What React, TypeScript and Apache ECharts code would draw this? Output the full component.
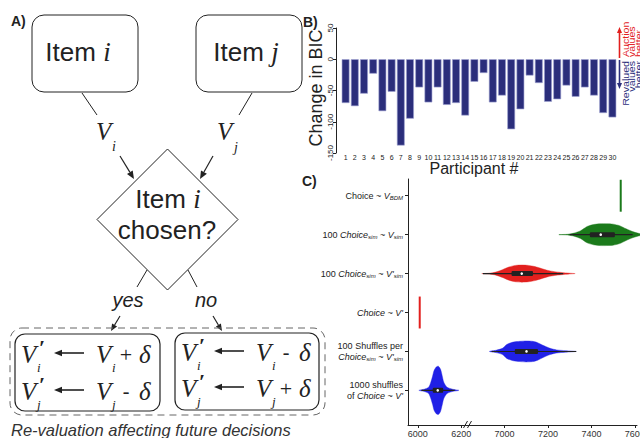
import React, { useEffect, useRef } from "react";
import * as echarts from "echarts";

// ---------- Panel B data ----------
const participants = ["1","2","3","4","5","6","7","8","9","10","11","12","13","14","15","16","17","18","19","20","21","22","23","24","25","26","27","28","29","30"];
const bicChange = [-70,-75,-55,-23,-83,-52,-138,-95,-45,-69,-45,-73,-70,-90,-36,-22,-69,-58,-112,-80,-26,-38,-68,-64,-42,-60,-45,-58,-86,-93];
const bicTicks = [50, 0, -50, -100, -150];

// ---------- Panel C data ----------
const rowLabels = [
  "Choice ~ {i|V}{s|BDM}",
  "100 {i|Choice}{s|sim} ~ {i|V}{s|sim}",
  "100 {i|Choice}{s|sim} ~ {i|V'}{s|sim}",
  "{i|Choice ~ V'}",
  "100 Shuffles per\n{i|Choice}{s|sim} ~ {i|V'}{s|sim}",
  "1000 shuffles\nof {i|Choice} ~ {i|V'}",
];
const rowPositions = [1, 2, 3, 4, 5, 6];
const devianceTicks = [6000, 6200, 7000, 7200, 7400, 7600];

// single model fits (vertical lines)
const fitRows = [1, 4];
const fitDeviance = [7535, 6009];

// violins (deviance grid and half-width density in row units)
const violinRows = [2, 3, 5, 6];
const simDeviance = [7250, 7290, 7320, 7350, 7380, 7410, 7440, 7470, 7500, 7530, 7560, 7590, 7620, 7650];
const simDensity = [0, 0.01, 0.04, 0.1, 0.21, 0.26, 0.28, 0.28, 0.27, 0.23, 0.15, 0.08, 0.03, 0];
const simPrimeDeviance = [6895, 6930, 6960, 6990, 7020, 7050, 7080, 7110, 7140, 7170, 7200, 7230, 7260, 7300, 7325];
const simPrimeDensity = [0, 0.01, 0.04, 0.1, 0.17, 0.21, 0.22, 0.21, 0.18, 0.13, 0.08, 0.05, 0.03, 0.01, 0];
const shuffleSimDeviance = [6930, 6960, 6990, 7010, 7040, 7070, 7100, 7130, 7150, 7180, 7210, 7240, 7280, 7330];
const shuffleSimDensity = [0, 0.03, 0.08, 0.18, 0.24, 0.26, 0.27, 0.26, 0.23, 0.15, 0.08, 0.04, 0.02, 0];
const shuffleDeviance = [6005, 6030, 6050, 6060, 6068, 6075, 6085, 6095, 6105, 6112, 6120, 6135, 6160, 6190];
const shuffleDensity = [0, 0.03, 0.08, 0.21, 0.36, 0.51, 0.6, 0.62, 0.54, 0.39, 0.21, 0.08, 0.03, 0];

const violinDeviance = [simDeviance, simPrimeDeviance, shuffleSimDeviance, shuffleDeviance];
const violinDensity = [simDensity, simPrimeDensity, shuffleSimDensity, shuffleDensity];
const violinQ1 = [7393, 7032, 7047, 6069];
const violinMedian = [7443, 7079, 7101, 6092];
const violinQ3 = [7508, 7131, 7154, 6117];
const violinLo = [7300, 6900, 6940, 6017];
const violinHi = [7590, 7270, 7330, 6170];

// ---------- styles ----------
const ink = "#222";
const green = "#1b7a1b";
const red = "#e2201e";
const blue = "#2020e6";
const navy = "#2b2e7b";
const sans = '"Liberation Sans", Arial, Helvetica, sans-serif';
const serif = '"Liberation Serif", "Times New Roman", serif';
const violinColors = [green, red, blue, blue];
const fitColors = [green, red];

// axis break: 6200..7000 collapsed to one tick step
const toAxis = (v: number) => (v <= 6600 ? v : v - 600);
const fromAxis = (v: number) => (v <= 6200 ? v : v + 600);

type Opts = { family?: string; italic?: boolean; bold?: boolean; color?: string; align?: string; va?: string; rot?: number; lh?: number; sx?: number };
function txt(x: number, y: number, text: string, size: number, o: Opts = {}) {
  return {
    type: "text",
    x,
    y,
    rotation: o.rot || 0,
    scaleX: o.sx || 1,
    style: {
      text,
      fontSize: size,
      fontFamily: o.family || sans,
      fontStyle: o.italic ? "italic" : "normal",
      fontWeight: o.bold ? "bold" : "normal",
      fill: o.color || ink,
      align: o.align || "left",
      verticalAlign: o.va || "middle",
      lineHeight: o.lh,
    },
  };
}
function arrowEl(x1: number, y1: number, x2: number, y2: number, color: string, head = 7, lw = 1.2) {
  const ang = Math.atan2(y2 - y1, x2 - x1);
  const hx = x2 - head * Math.cos(ang);
  const hy = y2 - head * Math.sin(ang);
  const w = head * 0.42;
  const px = -Math.sin(ang) * w;
  const py = Math.cos(ang) * w;
  return [
    { type: "line", shape: { x1, y1, x2: hx, y2: hy }, style: { stroke: color, lineWidth: lw } },
    { type: "polygon", shape: { points: [[x2, y2], [hx + px, hy + py], [hx - px, hy - py]] }, style: { fill: color } },
  ];
}
function lineEl(x1: number, y1: number, x2: number, y2: number, lw = 1, color = ink) {
  return { type: "line", shape: { x1, y1, x2, y2 }, style: { stroke: color, lineWidth: lw } };
}
function equation(x0: number, y: number, sub: string, op: string, sub2: string) {
  return [
    txt(x0, y, "V", 25, { family: serif, italic: true }),
    txt(x0 + 18, y - 7, "\u2032", 22, { family: serif, bold: true }),
    txt(x0 + 16, y + 13, sub, 13, { family: serif, italic: true }),
    ...arrowEl(x0 + 63, y - 1, x0 + 33, y - 1, ink, 8, 1.6),
    txt(x0 + 75, y, "V", 25, { family: serif, italic: true }),
    txt(x0 + 91, y + 13, sub2, 13, { family: serif, italic: true }),
    txt(x0 + 105, y, op, op === "+" ? 22 : 20, { family: serif, align: "center" }),
    txt(x0 + 118, y, "\u03b4", 25, { family: serif, italic: true }),
  ];
}

function buildGraphic() {
  const g: any[] = [];
  // panel labels
  g.push(txt(11, 21, "A)", 14, { bold: true }));
  g.push(txt(303, 22, "B)", 14, { bold: true }));
  g.push(txt(302, 181, "C)", 14, { bold: true }));

  // ----- Panel A -----
  g.push({ type: "rect", shape: { x: 32, y: 15, width: 106, height: 77, r: 12 }, style: { fill: "#fff", stroke: ink, lineWidth: 1 } });
  g.push({ type: "rect", shape: { x: 196, y: 15, width: 106, height: 77, r: 12 }, style: { fill: "#fff", stroke: ink, lineWidth: 1 } });
  g.push({
    type: "text", x: 78, y: 52,
    style: { text: "{a|Item }{b|i}", align: "center", verticalAlign: "middle", fill: ink,
      rich: { a: { fontFamily: sans, fontSize: 26, fill: ink }, b: { fontFamily: serif, fontStyle: "italic", fontSize: 27, fill: ink } } },
  });
  g.push({
    type: "text", x: 246, y: 52,
    style: { text: "{a|Item }{b|j}", align: "center", verticalAlign: "middle", fill: ink,
      rich: { a: { fontFamily: sans, fontSize: 26, fill: ink }, b: { fontFamily: serif, fontStyle: "italic", fontSize: 27, fill: ink } } },
  });
  g.push(lineEl(82, 93, 97, 115));
  g.push(lineEl(252, 93, 239, 115));
  g.push(txt(96, 131, "V", 25, { family: serif, italic: true }));
  g.push(txt(112, 146, "i", 14, { family: serif, italic: true }));
  g.push(txt(217, 131, "V", 25, { family: serif, italic: true }));
  g.push(txt(234, 147, "j", 14, { family: serif, italic: true }));
  g.push(...arrowEl(120, 156, 134, 179, ink, 8, 1.2));
  g.push(...arrowEl(213, 156, 200, 179, ink, 8, 1.2));
  // diamond
  g.push({ type: "polygon", shape: { points: [[167.5, 149], [238, 219.5], [167.5, 290], [97, 219.5]] }, style: { fill: "#fff", stroke: ink, lineWidth: 1 } });
  g.push({
    type: "text", x: 168, y: 199,
    style: { text: "{a|Item }{b|i}", align: "center", verticalAlign: "middle", fill: ink,
      rich: { a: { fontFamily: sans, fontSize: 26, fill: ink }, b: { fontFamily: serif, fontStyle: "italic", fontSize: 27, fill: ink } } },
  });
  g.push(txt(167, 230, "chosen?", 26, { align: "center" }));
  g.push(lineEl(147, 270, 137, 287));
  g.push(lineEl(188, 270, 197, 287));
  g.push(txt(128, 300, "yes", 20, { italic: true, align: "center" }));
  g.push(txt(206, 300, "no", 20, { italic: true, align: "center" }));
  g.push(...arrowEl(120, 316, 111, 331, ink, 7, 1.2));
  g.push(...arrowEl(213, 316, 222, 331, ink, 7, 1.2));
  // dashed outer + boxes
  g.push({ type: "rect", shape: { x: 10, y: 328, width: 315, height: 87, r: 12 }, style: { fill: "none", stroke: "#666", lineWidth: 1, lineDash: [7, 5] } });
  g.push({ type: "rect", shape: { x: 15, y: 334, width: 145, height: 77, r: 10 }, style: { fill: "#fff", stroke: ink, lineWidth: 1.2 } });
  g.push({ type: "rect", shape: { x: 175, y: 333, width: 144, height: 77, r: 10 }, style: { fill: "#fff", stroke: ink, lineWidth: 1.2 } });
  g.push(...equation(21, 354, "i", "+", "i"));
  g.push(...equation(21, 391, "j", "-", "j"));
  g.push(...equation(181, 352, "i", "-", "i"));
  g.push(...equation(181, 388, "j", "+", "j"));
  g.push(txt(11, 430, "Re-valuation affecting future decisions", 16.5, { italic: true, color: "#333" }));

  // ----- Panel B annotations -----
  g.push(txt(316, 88, "Change in BIC", 18, { align: "center", rot: Math.PI / 2 }));
  g.push(txt(474, 168, "Participant #", 16, { align: "center" }));
  g.push(...arrowEl(619.5, 58, 619.5, 27, red, 6, 1.6));
  g.push(...arrowEl(619.5, 60, 619.5, 89, navy, 6, 1.6));
  g.push(txt(622.5, 57, "Auction\nvalues\nbetter", 8.5, { align: "left", va: "top", rot: Math.PI / 2, color: red, lh: 6.5, sx: 1.25 }));
  g.push(txt(622.5, 61, "Revalued\nvalues\nbetter", 8.5, { align: "right", va: "top", rot: Math.PI / 2, color: navy, lh: 6.5, sx: 1.25 }));

  // axis break mark on panel C x-axis
  g.push(lineEl(463.5, 428, 467.5, 421, 1, ink));
  g.push(lineEl(467.5, 428, 471.5, 421, 1, ink));
  return g;
}

export default function App() {
  const ref = useRef<HTMLDivElement>(null);
  useEffect(() => {
    document.body.style.margin = "0";
    const chart = echarts.init(ref.current!, undefined, { renderer: "svg" });
    const tickPos = devianceTicks.map(toAxis);
    const labelRich = {
      i: { fontStyle: "italic", fontSize: 9, fontFamily: sans, color: ink, lineHeight: 11 },
      s: { fontStyle: "italic", fontSize: 6, fontFamily: sans, color: ink, lineHeight: 11, verticalAlign: "bottom" },
    };
    const option: any = {
      animation: false,
      textStyle: { fontFamily: sans },
      grid: [
        { left: 341, right: 23, top: 28, bottom: 285, containLabel: false, outerBoundsMode: "none" },
        { left: 408, right: 3, top: 179, bottom: 13, containLabel: false, outerBoundsMode: "none" },
      ],
      xAxis: [
        {
          type: "category", gridIndex: 0, data: participants,
          axisLine: { show: false, onZero: false }, axisTick: { show: false },
          axisLabel: { interval: 0, fontSize: 7, color: ink, margin: 1 },
        },
        {
          type: "value", gridIndex: 1, min: 5955, max: 7010,
          name: "Deviance", nameLocation: "middle", nameGap: 12,
          nameTextStyle: { fontSize: 12, color: ink, verticalAlign: "top" },
          axisLine: { show: true, onZero: false, lineStyle: { color: ink, width: 1 } },
          axisTick: { show: true, customValues: tickPos, length: 3, lineStyle: { color: ink } },
          axisLabel: { customValues: tickPos, formatter: (v: number) => String(fromAxis(v)), fontSize: 9, color: "#333", margin: 4 },
          splitLine: { show: false },
        },
      ],
      yAxis: [
        {
          type: "value", gridIndex: 0, min: -150, max: 50, interval: 50, offset: 5,
          axisLine: { show: true, lineStyle: { color: ink, width: 1 } },
          axisTick: { show: true, length: 3, lineStyle: { color: ink } },
          axisLabel: { rotate: 90, fontSize: 8, color: ink, margin: 2, customValues: bicTicks },
          splitLine: { show: false },
        },
        {
          type: "value", gridIndex: 1, inverse: true, min: 0.57, max: 6.89,
          axisLine: { show: true, onZero: false, lineStyle: { color: ink, width: 1 } },
          axisTick: { show: true, customValues: rowPositions, length: 3, lineStyle: { color: ink } },
          axisLabel: {
            customValues: rowPositions,
            formatter: (v: number) => rowLabels[Math.round(v) - 1],
            rich: labelRich, fontSize: 9, lineHeight: 11, color: ink, margin: 5, align: "right",
          },
          splitLine: { show: false },
        },
      ],
      series: [
        {
          type: "bar", xAxisIndex: 0, yAxisIndex: 0, data: bicChange,
          barCategoryGap: "16%",
          itemStyle: { color: navy, borderColor: "#9a9dd0", borderWidth: 0.6 },
        },
        {
          type: "custom", xAxisIndex: 1, yAxisIndex: 1, clip: false,
          data: violinRows.map((r, k) => [toAxis(violinMedian[k]), r]),
          encode: { x: 0, y: 1 },
          renderItem: (params: any, api: any) => {
            const k = params.dataIndex;
            const row = violinRows[k];
            const xs = violinDeviance[k];
            const ds = violinDensity[k];
            const top = xs.map((x, j) => api.coord([toAxis(x), row - ds[j]]));
            const bot = xs.map((x, j) => api.coord([toAxis(x), row + ds[j]])).slice(1, -1).reverse();
            const lo = api.coord([toAxis(violinLo[k]), row]);
            const hi = api.coord([toAxis(violinHi[k]), row]);
            const q1 = api.coord([toAxis(violinQ1[k]), row]);
            const q3 = api.coord([toAxis(violinQ3[k]), row]);
            const md = api.coord([toAxis(violinMedian[k]), row]);
            const c = violinColors[k];
            return {
              type: "group",
              children: [
                { type: "polygon", shape: { points: top.concat(bot), smooth: 0.25 }, style: { fill: c, stroke: c, lineWidth: 0.4 } },
                { type: "line", shape: { x1: lo[0], y1: lo[1], x2: hi[0], y2: hi[1] }, style: { stroke: "#222", lineWidth: 1.1 } },
                { type: "rect", shape: { x: q1[0], y: q1[1] - 2.5, width: q3[0] - q1[0], height: 5, r: 1 }, style: { fill: "#222" } },
                { type: "circle", shape: { cx: md[0], cy: md[1], r: 1.3 }, style: { fill: "#fff" } },
              ],
            };
          },
        },
        {
          type: "custom", xAxisIndex: 1, yAxisIndex: 1, clip: false,
          data: fitRows.map((r, k) => [toAxis(fitDeviance[k]), r]),
          encode: { x: 0, y: 1 },
          renderItem: (params: any, api: any) => {
            const k = params.dataIndex;
            const a = api.coord([toAxis(fitDeviance[k]), fitRows[k] - 0.41]);
            const b = api.coord([toAxis(fitDeviance[k]), fitRows[k] + 0.41]);
            return { type: "line", shape: { x1: a[0], y1: a[1], x2: b[0], y2: b[1] }, style: { stroke: fitColors[k], lineWidth: 2 } };
          },
        },
      ],
      graphic: buildGraphic(),
    };
    chart.setOption(option);
    return () => chart.dispose();
  }, []);
  return <div ref={ref} style={{ width: 640, height: 438 }} />;
}
